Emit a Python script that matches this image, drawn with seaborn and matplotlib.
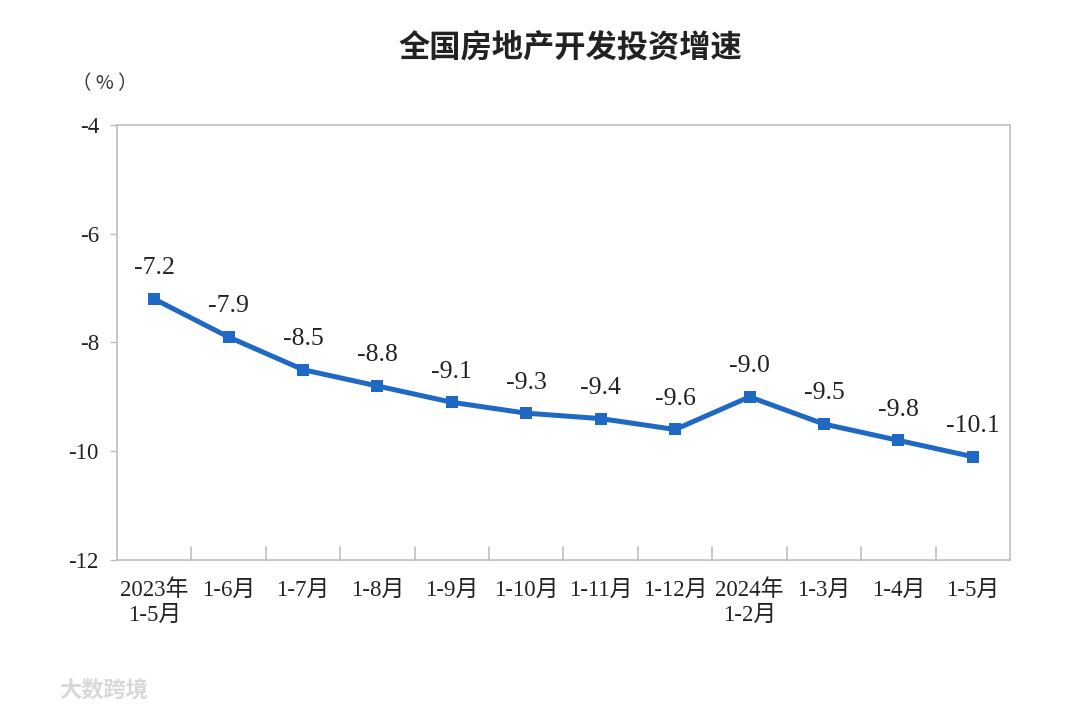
import matplotlib
matplotlib.use("Agg")
import matplotlib.pyplot as plt
import seaborn as sns
import pandas as pd

categories = ["2023年\n1-5月", "1-6月", "1-7月", "1-8月", "1-9月", "1-10月",
              "1-11月", "1-12月", "2024年\n1-2月", "1-3月", "1-4月", "1-5月"]
values = [-7.2, -7.9, -8.5, -8.8, -9.1, -9.3, -9.4, -9.6, -9.0, -9.5, -9.8, -10.1]
y_ticks = [-12, -10, -8, -6, -4]

sns.set_theme(style="white")
FAM = ["Liberation Serif", "Noto Sans CJK SC", "DejaVu Sans"]
plt.rcParams["font.family"] = FAM
plt.rcParams["axes.unicode_minus"] = False

df = pd.DataFrame({"x": range(len(categories)), "y": values})

fig = plt.figure(figsize=(10.8, 7.11), dpi=100)
ax = fig.add_axes([0.1083, 0.2124, 0.8269, 0.6118])
blue = "#1f68c4"
sns.lineplot(data=df, x="x", y="y", ax=ax, color=blue, linewidth=3.6,
             marker="s", markersize=8.5, markeredgewidth=0, markerfacecolor=blue)

for x, y in zip(df["x"], df["y"]):
    ax.text(x, y + 0.36, f"{y:.1f}", ha="center", va="bottom", fontsize=18.5,
            color="#222222", family=FAM)

ax.set_xlim(-0.5, len(categories) - 0.5)
ax.set_ylim(-12, -4)
ax.set_yticks(y_ticks)
ax.set_yticklabels([str(t) for t in y_ticks], fontsize=16.5, color="#222222")
ax.set_xticks(range(len(categories)))
ax.set_xticklabels(categories, fontsize=16.5, color="#222222", linespacing=1.25)
ax.tick_params(axis="x", length=0, pad=14)
ax.tick_params(axis="y", length=5, width=1, color="#bfbfbf", direction="out", pad=8, left=True)
# boundary ticks between categories
for b in range(1, len(categories)):
    ax.plot([b - 0.5, b - 0.5], [-12, -11.77], color="#bfbfbf", lw=1.2, clip_on=False)
ax.set_xlabel("")
ax.set_ylabel("")
for s in ax.spines.values():
    s.set_color("#bfbfbf")
    s.set_linewidth(1.2)

fig.text(0.528, 0.932, "全国房地产开发投资增速", ha="center", va="center",
         fontsize=22.5, fontweight="bold", color="#222222", family=FAM)
fig.text(0.097, 0.882, "（ % ）", ha="center", va="center", fontsize=14,
         color="#333333", family=["Noto Sans CJK SC", "DejaVu Sans"])
fig.text(0.055, 0.028, "大数跨境", ha="left", va="center", fontsize=16,
         color="#d8d8d8", fontweight="bold", family=FAM)

fig.savefig("out.png", dpi=100, facecolor="white")
